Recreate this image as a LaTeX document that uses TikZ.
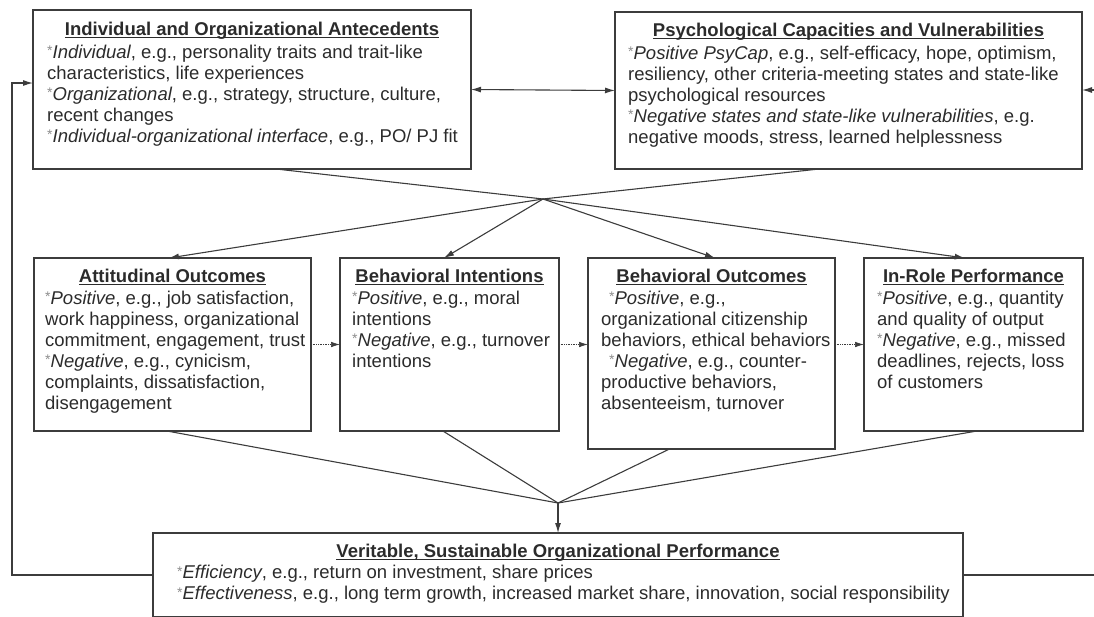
\documentclass[tikz,border=0pt]{standalone}
\usepackage{fontspec}
\setmainfont{Liberation Sans}
\usetikzlibrary{arrows.meta,calc}

\definecolor{ink}{HTML}{2B2B2B}
\definecolor{rule}{HTML}{3C3C3C}
\definecolor{star}{HTML}{8C8C8C}

% small grey raised asterisk that opens each bullet
\newcommand\bul{\raisebox{2.5pt}{\color{star}\fontsize{14}{14}\selectfont *}}
% bold heading with a rule a little below the baseline
\newsavebox\hdbox
\newcommand\hd[1]{\bfseries\sbox\hdbox{#1}\rlap{\rule[-2.8pt]{\wd\hdbox}{1.1pt}}\usebox\hdbox}

\begin{document}
\begin{tikzpicture}[x=1pt,y=-1pt,
  box/.style={draw=rule, line width=1.3pt, inner sep=0pt, outer sep=0pt,
              anchor=north west},
  ttl/.style={font=\fontsize{18.5}{21}\selectfont, text=ink, inner sep=0pt, anchor=base},
  txt/.style={font=\fontsize{18.5}{21}\selectfont, text=ink, inner sep=0pt,
              anchor=north west, align=left},
  ln/.style={draw=rule, line width=1.1pt},
  arr/.style={ln, -{Latex[length=10pt,width=6pt]}},
  darr/.style={draw=rule, line width=0.7pt, densely dotted,
               -{Latex[length=9pt,width=5.5pt]}},
  ]
\useasboundingbox (0,0) rectangle (1094,616);
\clip (0,0) rectangle (1094,616);

% ---------- boxes ----------
\node[box, minimum width=438pt, minimum height=159pt] (ant)  at (33,10)  {};
\node[box, minimum width=467pt, minimum height=157pt] (psy)  at (615,12) {};
\node[box, minimum width=277pt, minimum height=173pt] (att)  at (34,258) {};
\node[box, minimum width=219pt, minimum height=173pt] (bint) at (340,258) {};
\node[box, minimum width=247pt, minimum height=191pt] (bout) at (588,258) {};
\node[box, minimum width=219pt, minimum height=173pt] (irp)  at (864,258) {};
\node[box, minimum width=810pt, minimum height=84pt]  (vsop) at (153,533) {};

% ---------- headings ----------
\node[ttl] (antT)  at (ant.north  |- 0,35)  {\hd{Individual and Organizational Antecedents}};
\node[ttl] (psyT)  at (psy.north  |- 0,36)  {\hd{Psychological Capacities and Vulnerabilities}};
\node[ttl] (attT)  at (att.north  |- 0,282) {\hd{Attitudinal Outcomes}};
\node[ttl] (bintT) at (bint.north |- 0,282) {\hd{Behavioral Intentions}};
\node[ttl] (boutT) at (bout.north |- 0,282) {\hd{Behavioral Outcomes}};
\node[ttl] (irpT)  at (irp.north  |- 0,282) {\hd{In-Role Performance}};
\node[ttl] (vsopT) at (vsop.north |- 0,557) {\hd{Veritable, Sustainable Organizational Performance}};

% ---------- body texts ----------
\node[txt] (antB) at (47,43.3) {\strut\bul\textit{Individual}, e.g., personality traits and trait-like\\
characteristics, life experiences\\
\bul\textit{Organizational}, e.g., strategy, structure, culture,\\
recent changes\\
\bul\textit{Individual-organizational interface}, e.g., PO/ PJ fit};

\node[txt] (psyB) at (628,44.3) {\strut\bul\textit{Positive PsyCap}, e.g., self-efficacy, hope, optimism,\\
resiliency, other criteria-meeting states and state-like\\
psychological resources\\
\bul\textit{Negative states and state-like vulnerabilities}, e.g.\\
negative moods, stress, learned helplessness};

\node[txt] (attB) at (45,289.3) {\strut\bul\textit{Positive}, e.g., job satisfaction,\\
work happiness, organizational\\
commitment, engagement, trust\\
\bul\textit{Negative}, e.g., cynicism,\\
complaints, dissatisfaction,\\
disengagement};

\node[txt] (bintB) at (352,289.3) {\strut\bul\textit{Positive}, e.g., moral\\
intentions\\
\bul\textit{Negative}, e.g., turnover\\
intentions};

\node[txt] (boutB) at (601,289.3) {\strut\hspace{8pt}\bul\textit{Positive}, e.g.,\\
organizational citizenship\\
behaviors, ethical behaviors\\
\hspace{8pt}\bul\textit{Negative}, e.g., counter-\\
productive behaviors,\\
absenteeism, turnover};

\node[txt] (irpB) at (877,289.3) {\strut\bul\textit{Positive}, e.g., quantity\\
and quality of output\\
\bul\textit{Negative}, e.g., missed\\
deadlines, rejects, loss\\
of customers};

\node[txt] (vsopB) at (177,564) {\strut\bul\textit{Efficiency}, e.g., return on investment, share prices\\
\bul\textit{Effectiveness}, e.g., long term growth, increased market share, innovation, social responsibility};

% ---------- connectors ----------
\draw[ln, {Latex[length=10pt,width=6pt]}-{Latex[length=10pt,width=6pt]}] (ant.east) -- (psy.west);

\coordinate (j1) at (543,199);
\draw[ln] ($(ant.south west)!0.555!(ant.south east)$) -- (j1);
\draw[ln] ($(psy.south west)!0.437!(psy.south east)$) -- (j1);
\draw[arr] (j1) -- ($(att.north west)!0.487!(att.north east)$);
\draw[arr] (j1) -- ($(bint.north west)!0.475!(bint.north east)$);
\draw[arr] (j1) -- ($(bout.north west)!0.514!(bout.north east)$);
\draw[arr] (j1) -- ($(irp.north west)!0.46!(irp.north east)$);

\draw[darr] (att.east) -- (bint.west);
\draw[darr] (bint.east) -- (bint.east -| bout.west);
\draw[darr] (bout.east |- irp.west) -- (irp.west);

\coordinate (j2) at (558,503);
\draw[ln] ($(att.south west)!0.48!(att.south east)$) -- (j2);
\draw[ln] ($(bint.south west)!0.47!(bint.south east)$) -- (j2);
\draw[ln] ($(bout.south west)!0.33!(bout.south east)$) -- (j2);
\draw[ln] ($(irp.south west)!0.516!(irp.south east)$) -- (j2);
\draw[arr] (j2) -- (vsop.north);

% feedback loops back to the two top boxes
\coordinate (fbL) at (12,83);
\coordinate (fbR) at (1110,90);
\draw[arr] (vsop.west) -| (fbL) -- (fbL -| ant.west);
\draw[arr] (vsop.east) -| (fbR) -- (fbR -| psy.east);
\end{tikzpicture}
\end{document}
